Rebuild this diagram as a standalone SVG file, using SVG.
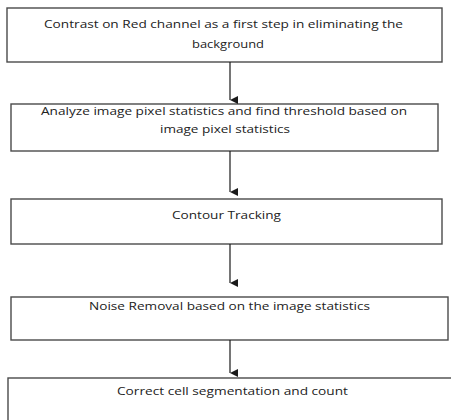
<svg xmlns="http://www.w3.org/2000/svg" width="451" height="420" viewBox="0 0 451 420">
  <style>
    .box { fill: #ffffff; stroke: #4a4a4a; stroke-width: 1.4; }
    .lbl { font-family: "Open Sans", "Liberation Sans", sans-serif; font-size: 11.5px; fill: #222222; }
    .flow { stroke: #1a1a1a; stroke-width: 1.2; fill: none; }
  </style>
  <defs>
    <marker id="head" viewBox="0 0 8 8" refX="4" refY="8" markerWidth="8" markerHeight="8" markerUnits="userSpaceOnUse" orient="auto-start-reverse">
      <path d="M0,0 L8,0 L4,8 Z" fill="#1a1a1a"/>
    </marker>
  </defs>
  <rect width="451" height="420" fill="#ffffff"/>

  <g id="step-contrast">
    <rect class="box" x="7" y="8" width="435" height="54"/>
    <text class="lbl" x="44" y="28" textLength="359" lengthAdjust="spacingAndGlyphs">Contrast on Red channel as a first step in eliminating the</text>
    <text class="lbl" x="192" y="48" textLength="72" lengthAdjust="spacingAndGlyphs">background</text>
  </g>

  <g id="step-threshold">
    <rect class="box" x="11" y="104" width="427" height="47"/>
    <text class="lbl" x="41" y="115" textLength="366" lengthAdjust="spacingAndGlyphs">Analyze image pixel statistics and find threshold based on</text>
    <text class="lbl" x="160" y="133" textLength="130" lengthAdjust="spacingAndGlyphs">image pixel statistics</text>
  </g>

  <g id="step-contour">
    <rect class="box" x="11" y="199" width="431" height="45"/>
    <text class="lbl" x="172" y="219" textLength="109" lengthAdjust="spacingAndGlyphs">Contour Tracking</text>
  </g>

  <g id="step-noise">
    <rect class="box" x="11" y="297" width="437" height="43"/>
    <text class="lbl" x="89" y="310" textLength="281" lengthAdjust="spacingAndGlyphs">Noise Removal based on the image statistics</text>
  </g>

  <g id="step-count">
    <rect class="box" x="8" y="378" width="450" height="50"/>
    <text class="lbl" x="117" y="395" textLength="231" lengthAdjust="spacingAndGlyphs">Correct cell segmentation and count</text>
  </g>

  <g id="connectors">
    <line class="flow" x1="230" y1="62" x2="230" y2="100" marker-end="url(#head)"/>
    <line class="flow" x1="230" y1="151" x2="230" y2="192" marker-end="url(#head)"/>
    <line class="flow" x1="230" y1="244" x2="230" y2="283" marker-end="url(#head)"/>
    <line class="flow" x1="230" y1="340" x2="230" y2="373" marker-end="url(#head)"/>
  </g>
</svg>
